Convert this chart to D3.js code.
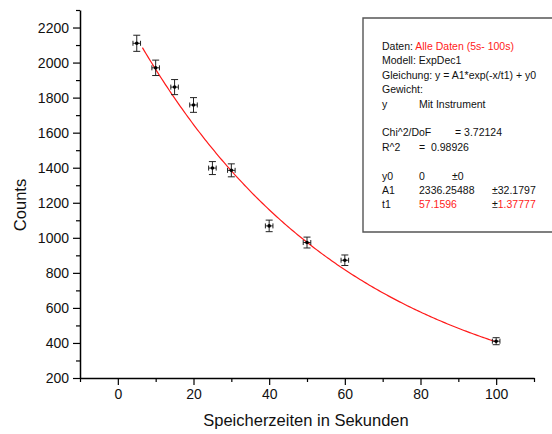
<!DOCTYPE html>
<html>
<head>
<meta charset="utf-8">
<script src="https://cdn.jsdelivr.net/npm/d3@7"></script>
<style>
  body { margin: 0; background: #fff; overflow: hidden; }
  text { font-family: 'Liberation Sans', Arial, sans-serif; white-space: pre; }
</style>
</head>
<body>
<script>
"use strict";

// measured data: storage time (s), counts, errors
var times = [5, 10, 15, 20, 25, 30, 40, 50, 60, 100];
var counts = [2110, 1970, 1860, 1758, 1398, 1385, 1068, 973, 872, 410];
var count_err = [46, 44, 43, 42, 37, 37, 33, 31, 30, 20];
var time_err = [1, 1, 1, 1, 1, 1, 1, 1, 1, 1];

var x_ticks = [0, 20, 40, 60, 80, 100];
var y_ticks = [200, 400, 600, 800, 1000, 1200, 1400, 1600, 1800, 2000, 2200];

// fit parameters ExpDec1 (y0 = 0)
var fit_A1 = 2336.25488;
var fit_t1 = 57.1596;
var fit_range = [6.5, 100];

var width = 552, height = 434;
var svg = d3.select("body").append("svg")
    .attr("width", width)
    .attr("height", height);

var x = d3.scaleLinear().domain([-10, 110]).range([80, 534]);
var y = d3.scaleLinear().domain([200, 2300]).range([378, 10]);

// axes
var x_axis = svg.append('g')
    .attr('transform', 'translate(0,378)')
    .call(d3.axisBottom(x).tickValues(x_ticks).tickFormat(d3.format('d'))
      .tickSize(7).tickSizeOuter(0).tickPadding(4));
var x_minor = svg.append('g')
    .attr('transform', 'translate(0,378)')
    .call(d3.axisBottom(x).tickValues(d3.range(-10, 111, 20)).tickSize(4).tickFormat(''));
x_minor.select('.domain').remove();

var y_axis = svg.append('g')
    .attr('transform', 'translate(80,0)')
    .call(d3.axisLeft(y).tickValues(y_ticks).tickFormat(d3.format('d'))
      .tickSize(7).tickSizeOuter(0).tickPadding(4));
var y_minor = svg.append('g')
    .attr('transform', 'translate(80,0)')
    .call(d3.axisLeft(y).tickValues(d3.range(300, 2301, 200)).tickSize(4).tickFormat(''));
y_minor.select('.domain').remove();

svg.selectAll('.domain').attr('stroke', '#000').attr('stroke-width', 1.5);
svg.selectAll('.tick line').attr('stroke', '#000').attr('stroke-width', 1.2);
svg.selectAll('.tick text')
    .attr('font-size', '14px')
    .attr('fill', '#111')
    .style('font-family', "'Liberation Sans', Arial, sans-serif");

// axis titles
svg.append('text')
    .attr('x', 306)
    .attr('y', 426)
    .attr('text-anchor', 'middle')
    .attr('font-size', '16.5px')
    .attr('fill', '#111')
    .text('Speicherzeiten in Sekunden');

svg.append('text')
    .attr('transform', 'translate(26,205) rotate(-90)')
    .attr('text-anchor', 'middle')
    .attr('font-size', '16.5px')
    .attr('fill', '#111')
    .text('Counts');

// fit curve
var curve_x = d3.range(fit_range[0], fit_range[1] + 0.01, 0.5);
var line = d3.line()
    .x(function(d) { return x(d); })
    .y(function(d) { return y(fit_A1 * Math.exp(-d / fit_t1)); });

svg.append('path')
    .datum(curve_x)
    .attr('d', line)
    .attr('fill', 'none')
    .attr('stroke', '#ff1a1a')
    .attr('stroke-width', 1.2);

// data points with error bars
var pts = svg.selectAll('g.pt')
    .data(times)
    .enter()
    .append('g')
    .attr('class', 'pt');

var cap = 3.5;
pts.each(function(d, i) {
  var g = d3.select(this);
  var cx = x(d), cy = y(counts[i]);
  var y_top = y(counts[i] + count_err[i]), y_bot = y(counts[i] - count_err[i]);
  var x_lo = x(d - time_err[i]), x_hi = x(d + time_err[i]);
  var segs = [
    [cx, y_top, cx, y_bot],
    [cx - cap, y_top, cx + cap, y_top],
    [cx - cap, y_bot, cx + cap, y_bot],
    [x_lo, cy, x_hi, cy],
    [x_lo, cy - 2.5, x_lo, cy + 2.5],
    [x_hi, cy - 2.5, x_hi, cy + 2.5]
  ];
  g.selectAll('line')
    .data(segs)
    .enter()
    .append('line')
    .attr('x1', function(s) { return s[0]; })
    .attr('y1', function(s) { return s[1]; })
    .attr('x2', function(s) { return s[2]; })
    .attr('y2', function(s) { return s[3]; })
    .attr('stroke', '#222')
    .attr('stroke-width', 1);
  g.append('circle')
    .attr('cx', cx)
    .attr('cy', cy)
    .attr('r', 1.8)
    .attr('fill', '#000');
});

// fit result box (runs off the right edge)
svg.append('path')
    .attr('d', 'M560,18H363V232H560')
    .attr('fill', '#fff')
    .attr('stroke', '#555')
    .attr('stroke-width', 1.4);

var box = svg.append('g').attr('font-size', '10.5px').attr('fill', '#111');
var col0 = 382, col1 = 419, line_h = 14.4, base = 50;

function row(k) { return base + k * line_h; }

function put(xp, k, parts) {
  var t = box.append('text').attr('x', xp).attr('y', row(k));
  parts.forEach(function(p) {
    t.append('tspan').attr('fill', p[1] || '#111').text(p[0]);
  });
}

put(col0, 0, [['Daten: '], ['Alle Daten (5s- 100s)', '#ff1a1a']]);
put(col0, 1, [['Modell: ExpDec1']]);
put(col0, 2, [['Gleichung: y = A1*exp(-x/t1) + y0']]);
put(col0, 3, [['Gewicht:']]);
put(col0, 4, [['y']]);
put(col1, 4, [['Mit Instrument']]);
put(col0, 6, [['Chi^2/DoF']]);
put(455, 6, [['= 3.72124']]);
put(col0, 7, [['R^2']]);
put(col1, 7, [['=  0.98926']]);
put(col0, 9, [['y0']]);
put(col1, 9, [['0']]);
put(452, 9, [['\u00b10']]);
put(col0, 10, [['A1']]);
put(col1, 10, [['2336.25488']]);
put(492, 10, [['\u00b132.1797']]);
put(col0, 11, [['t1']]);
put(col1, 11, [['57.1596', '#ff1a1a']]);
put(492, 11, [['\u00b1'], ['1.37777', '#ff1a1a']]);
</script>
</body>
</html>
